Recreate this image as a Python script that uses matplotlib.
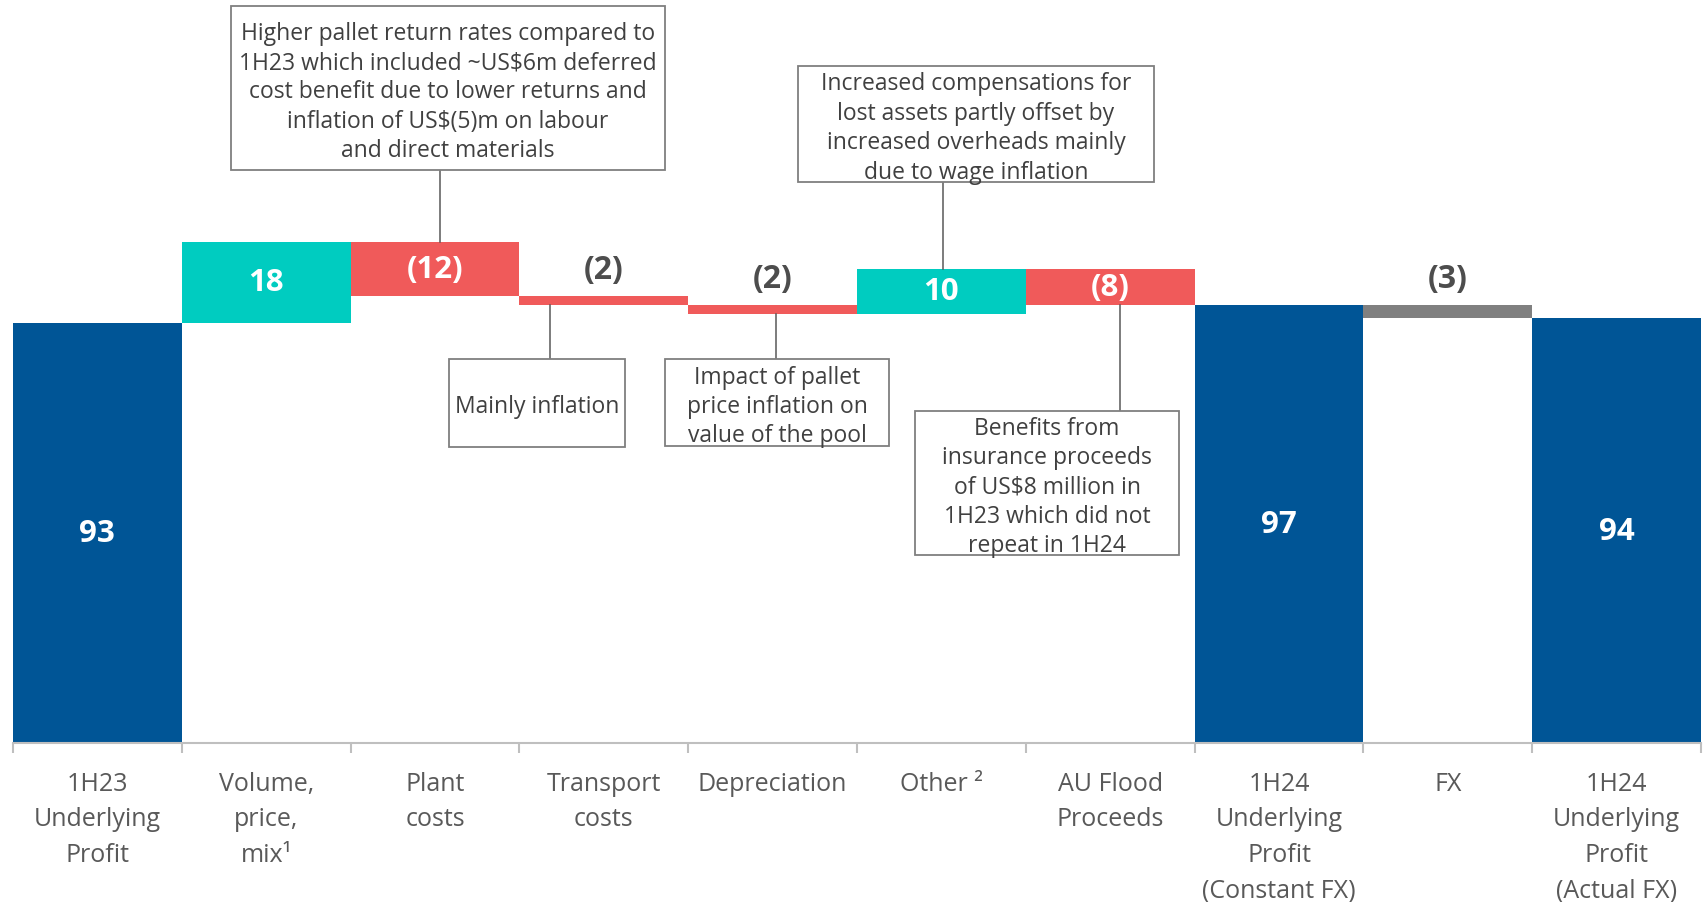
import matplotlib
matplotlib.use("Agg")
import matplotlib.pyplot as plt
from matplotlib.patches import Rectangle

# data
categories = ["1H23\nUnderlying\nProfit", "Volume,\nprice,\nmix¹", "Plant\ncosts",
              "Transport\ncosts", "Depreciation", "Other ²", "AU Flood\nProceeds",
              "1H24\nUnderlying\nProfit\n(Constant FX)", "FX",
              "1H24\nUnderlying\nProfit\n(Actual FX)"]
values = [93, 18, -12, -2, -2, 10, -8, 97, -3, 94]
kinds = ["total", "delta", "delta", "delta", "delta", "delta", "delta", "total", "fx", "total"]
value_labels = ["93", "18", "(12)", "(2)", "(2)", "10", "(8)", "97", "(3)", "94"]

notes = [
    "Higher pallet return rates compared to\n1H23 which included ~US$6m deferred\ncost benefit due to lower returns and\ninflation of US$(5)m on labour\nand direct materials",
    "Mainly inflation",
    "Impact of pallet\nprice inflation on\nvalue of the pool",
    "Increased compensations for\nlost assets partly offset by\nincreased overheads mainly\ndue to wage inflation",
    "Benefits from\ninsurance proceeds\nof US$8 million in\n1H23 which did not\nrepeat in 1H24",
]
note_bars = [2, 3, 4, 5, 6]

BLUE = "#005596"
TEAL = "#00CCC0"
RED = "#F05A5A"
GREY = "#808080"
TXT = "#404040"
LBL = "#595959"

W, H = 1704, 903
base_px, ppu = 744, 4.516
left_px, right_px = 13, 1701
cat_w = (right_px - left_px) / 10

fig = plt.figure(figsize=(W / 100, H / 100), dpi=100)
ax = fig.add_axes([left_px / W, (H - base_px) / H, (right_px - left_px) / W, base_px / H])
ax.set_xlim(-0.5, 9.5)
ax.set_ylim(0, base_px / ppu)


def px2x(px):
    return (px - left_px) / cat_w - 0.5


def py2y(py):
    return (base_px - py) / ppu


# waterfall bottoms
bottoms, heights, colors = [], [], []
running = 0
for v, k in zip(values, kinds):
    if k == "total":
        bottoms.append(0)
        heights.append(v)
        running = v
        colors.append(BLUE)
    else:
        new = running + v
        bottoms.append(min(running, new))
        heights.append(abs(v))
        running = new
        colors.append(GREY if k == "fx" else (TEAL if v > 0 else RED))

xs = list(range(len(values)))
ax.bar(xs, heights, bottom=bottoms, width=1.0, color=colors, linewidth=0, zorder=2)

for x, b, h, lab in zip(xs, bottoms, heights, value_labels):
    if h < 5:
        ax.annotate(lab, (x, b + h), xytext=(0, 19), textcoords="offset points",
                    ha="center", va="center", fontsize=23, fontweight="bold",
                    color="#4D4D4D", family="Open Sans")
    else:
        ax.text(x, b + h / 2, lab, ha="center", va="center", fontsize=22.5,
                fontweight="bold", color="white", family="Open Sans", zorder=3)

# category labels
for x, lab in zip(xs, categories):
    ax.annotate(lab, (x, 0), xytext=(0, -20), textcoords="offset points",
                ha="center", va="top", fontsize=18, color=LBL,
                family="Open Sans", linespacing=1.56)

# axis
for s in ["left", "right", "top"]:
    ax.spines[s].set_visible(False)
ax.spines["bottom"].set_color("#BFBFBF")
ax.spines["bottom"].set_linewidth(1.5)
ax.set_yticks([])
ax.set_xticks([i - 0.5 for i in range(11)])
ax.set_xticklabels([])
ax.tick_params(axis="x", direction="out", length=7, width=1.5, color="#BFBFBF")

# comment boxes (pixel layout: x0, y0, x1, y1, connector x)
box_layout = [
    (231, 7, 665, 171, 440),
    (449, 360, 625, 448, 550),
    (665, 360, 889, 447, 776),
    (798, 67, 1154, 183, 943),
    (915, 412, 1179, 556, 1120),
]
for text, bi, (x0, y0, x1, y1, cx) in zip(notes, note_bars, box_layout):
    rx0, rx1 = px2x(x0), px2x(x1)
    ry0, ry1 = py2y(y1), py2y(y0)
    ax.add_patch(Rectangle((rx0, ry0), rx1 - rx0, ry1 - ry0, facecolor="white",
                           edgecolor="#7F7F7F", linewidth=1.3, clip_on=False, zorder=4))
    ax.annotate(text, ((rx0 + rx1) / 2, (ry0 + ry1) / 2), xytext=(0, -2.5),
                textcoords="offset points", ha="center", va="center",
                fontsize=16.5, color=TXT, family="Open Sans", linespacing=1.3, zorder=5)
    top = bottoms[bi] + heights[bi]
    if ry0 > top:
        ax.plot([px2x(cx)] * 2, [ry0, top], color="#595959", lw=1.1, zorder=3, clip_on=False)
    else:
        ax.plot([px2x(cx)] * 2, [bottoms[bi], ry1], color="#595959", lw=1.1, zorder=3, clip_on=False)

fig.savefig("out.png", dpi=100)
